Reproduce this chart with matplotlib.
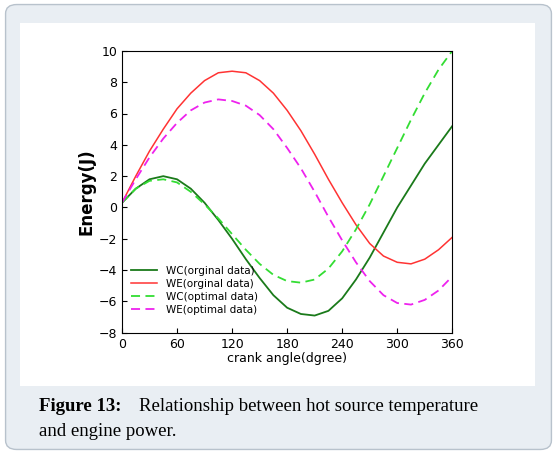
import matplotlib.pyplot as plt
from matplotlib.patches import FancyBboxPatch, Rectangle

angle = list(range(0, 361, 15))
wc_orig = [0.3, 1.2, 1.8, 2.0, 1.8, 1.2, 0.3, -0.8, -2.0, -3.3, -4.5, -5.6, -6.4,
           -6.8, -6.9, -6.6, -5.8, -4.6, -3.2, -1.6, 0.0, 1.4, 2.8, 4.0, 5.2]
we_orig = [0.3, 2.0, 3.6, 5.0, 6.3, 7.3, 8.1, 8.6, 8.7, 8.6, 8.1, 7.3, 6.2,
           4.9, 3.4, 1.8, 0.3, -1.1, -2.3, -3.1, -3.5, -3.6, -3.3, -2.7, -1.9]
wc_opt = [0.3, 1.2, 1.7, 1.8, 1.6, 1.0, 0.2, -0.7, -1.7, -2.7, -3.6, -4.3, -4.7,
          -4.8, -4.6, -3.9, -2.8, -1.4, 0.2, 2.0, 3.8, 5.6, 7.3, 8.8, 10.0]
we_opt = [0.3, 1.8, 3.2, 4.4, 5.4, 6.2, 6.7, 6.9, 6.8, 6.5, 5.9, 5.0, 3.8,
          2.5, 1.0, -0.6, -2.1, -3.5, -4.7, -5.6, -6.1, -6.2, -5.9, -5.3, -4.4]

fig = plt.figure(figsize=(5.57, 4.54), dpi=100)
# background box and white panel (behind the axes)
fig.patches.append(FancyBboxPatch((0.01, 0.01), 0.98, 0.98, boxstyle="round,pad=0,rounding_size=0.02",
                                  transform=fig.transFigure, facecolor="#e9eef3", edgecolor="#b8c2cc",
                                  lw=1, zorder=-10))
fig.patches.append(Rectangle((0.036, 0.15), 0.925, 0.80, transform=fig.transFigure,
                             facecolor="white", edgecolor="none", zorder=-9))

ax = fig.add_axes([0.219, 0.267, 0.593, 0.621])
ax.plot(angle, wc_orig, color="#1a7a1a", lw=1.3, label="WC(orginal data)")
ax.plot(angle, we_orig, color="#ff3333", lw=1.1, label="WE(orginal data)")
ax.plot(angle, wc_opt, color="#33dd33", lw=1.3, ls=(0, (5, 3)), label="WC(optimal data)")
ax.plot(angle, we_opt, color="#ee22ee", lw=1.3, ls=(0, (5, 3)), label="WE(optimal data)")
ax.set_xlim(0, 360)
ax.set_ylim(-8, 10)
ax.set_xticks(range(0, 361, 60))
ax.set_yticks(range(-8, 11, 2))
ax.tick_params(direction="in", labelsize=9)
ax.set_xlabel("crank angle(dgree)", fontsize=9, labelpad=1)
ax.set_ylabel("Energy(J)", fontsize=12, fontweight="bold", labelpad=2)
ax.legend(loc="lower left", bbox_to_anchor=(0.0, 0.03), frameon=False, fontsize=7.5,
          handlelength=2.5, labelspacing=0.3)

fig.text(0.07, 0.095, "Figure 13:", fontfamily="Liberation Serif", fontweight="bold", fontsize=13.5)
fig.text(0.25, 0.095, "Relationship between hot source temperature",
         fontfamily="Liberation Serif", fontsize=13.5)
fig.text(0.07, 0.04, "and engine power.", fontfamily="Liberation Serif", fontsize=13.5)

fig.savefig("out.png", dpi=100)
